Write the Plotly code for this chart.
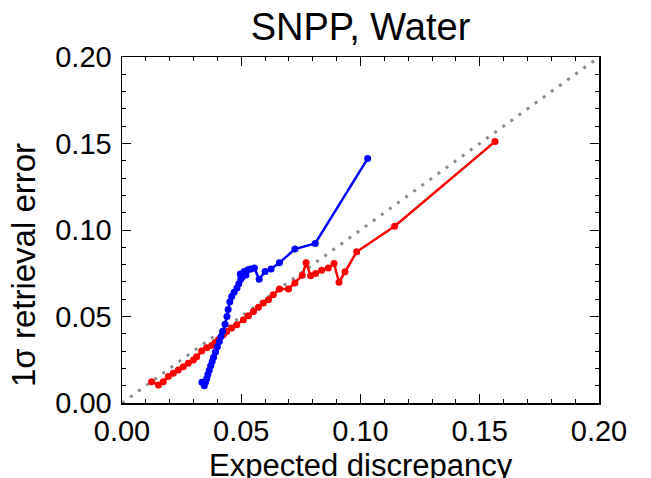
import plotly.graph_objects as go

title_text = "SNPP, Water"
x_label = "Expected discrepancy"
y_label = "1σ retrieval error"

one_to_one_x = [0.0, 0.2]
one_to_one_y = [0.0, 0.2]

blue_x = [0.0335, 0.0345, 0.0350, 0.0355, 0.0360, 0.0366, 0.0372, 0.0378, 0.0384, 0.0392,
          0.0400, 0.0408, 0.0415, 0.0422, 0.0432, 0.0440, 0.0445, 0.0452, 0.0460, 0.0470,
          0.0482, 0.0490, 0.0498, 0.0496, 0.0505, 0.0512, 0.0520, 0.0528, 0.0540, 0.0555,
          0.0575, 0.0600, 0.0625, 0.0660, 0.0725, 0.0810, 0.1030]
blue_y = [0.0120, 0.0100, 0.0120, 0.0140, 0.0165, 0.0190, 0.0215, 0.0240, 0.0265, 0.0295,
          0.0325, 0.0355, 0.0385, 0.0415, 0.0455, 0.0500, 0.0540, 0.0585, 0.0615, 0.0640,
          0.0665, 0.0690, 0.0715, 0.0745, 0.0730, 0.0760, 0.0740, 0.0770, 0.0775, 0.0780,
          0.0715, 0.0760, 0.0775, 0.0810, 0.0890, 0.0922, 0.1413]

red_x = [0.0124, 0.0153, 0.0173, 0.0194, 0.0215, 0.0236, 0.0257, 0.0278, 0.0299, 0.0313,
         0.0334, 0.0355, 0.0376, 0.0390, 0.0404, 0.0425, 0.0439, 0.0460, 0.0481, 0.0509,
         0.0530, 0.0551, 0.0572, 0.0593, 0.0614, 0.0634, 0.0660, 0.0698, 0.0725, 0.0756,
         0.0772, 0.0791, 0.0812, 0.0837, 0.0865, 0.0889, 0.0910, 0.0935, 0.0984, 0.1143,
         0.1564]
red_y = [0.0123, 0.0104, 0.0123, 0.0153, 0.0172, 0.0191, 0.0210, 0.0230, 0.0249, 0.0268,
         0.0300, 0.0320, 0.0333, 0.0350, 0.0365, 0.0394, 0.0413, 0.0433, 0.0452, 0.0481,
         0.0504, 0.0529, 0.0553, 0.0578, 0.0597, 0.0626, 0.0659, 0.0659, 0.0694, 0.0738,
         0.0810, 0.0736, 0.0748, 0.0767, 0.0781, 0.0806, 0.0698, 0.0758, 0.0874, 0.1022,
         0.1511]

tick_vals = [0.0, 0.05, 0.10, 0.15, 0.20]
tick_text = ["0.00", "0.05", "0.10", "0.15", "0.20"]

font_family = "Liberation Sans, Arial, sans-serif"

FIG_W, FIG_H = 651, 478
ML, MR, MT, MB = 122, 52, 57, 75
plot_h = FIG_H - MT - MB
plot_w = FIG_W - ML - MR
plot_bottom = FIG_H - MB

fig = go.Figure()
fig.add_trace(go.Scatter(x=one_to_one_x, y=one_to_one_y, mode="lines",
                         line=dict(color="#8c8c8c", width=3, dash="3px,7px"),
                         hoverinfo="skip", showlegend=False))
fig.add_trace(go.Scatter(x=red_x, y=red_y, mode="lines+markers",
                         line=dict(color="#ff0000", width=2.5),
                         marker=dict(color="#ff0000", size=7), showlegend=False))
fig.add_trace(go.Scatter(x=blue_x, y=blue_y, mode="lines+markers",
                         line=dict(color="#0000ff", width=2.5),
                         marker=dict(color="#0000ff", size=7), showlegend=False))

axis_common = dict(
    range=[0, 0.2], tickvals=tick_vals, ticktext=tick_text,
    ticks="inside", ticklen=9, tickwidth=1, tickcolor="black",
    showline=True, linecolor="black", linewidth=1.5, mirror="ticks",
    showgrid=False, zeroline=False, automargin=False,
    minor=dict(dtick=0.01, ticks="inside", ticklen=4, tickcolor="black", showgrid=False),
    tickfont=dict(family=font_family, size=29, color="black"),
)

fig.update_layout(
    width=FIG_W, height=FIG_H,
    paper_bgcolor="white", plot_bgcolor="white",
    margin=dict(l=ML, r=MR, t=MT, b=MB),
    title=dict(text=title_text, x=0.5, xref="paper", xanchor="center",
               y=1 - 27 / FIG_H, yref="container", yanchor="middle",
               font=dict(family=font_family, size=38, color="black")),
    xaxis=dict(**axis_common, ticklabelstandoff=2),
    yaxis=dict(**axis_common, ticklabelstandoff=3),
    annotations=[
        dict(text=x_label, xref="paper", yref="paper", x=0.5, y=(plot_bottom - 465) / plot_h,
             xanchor="center", yanchor="middle", showarrow=False,
             font=dict(family=font_family, size=31, color="black")),
        dict(text=y_label, xref="paper", yref="paper", x=(23 - ML) / plot_w,
             y=(plot_bottom - 265) / plot_h,
             xanchor="center", yanchor="middle", showarrow=False, textangle=-90,
             font=dict(family=font_family, size=33, color="black")),
    ],
)

fig.write_html("out.html",
               config={"displayModeBar": False, "staticPlot": True},
               post_script="document.body.style.margin='0';document.body.style.overflow='hidden';")
